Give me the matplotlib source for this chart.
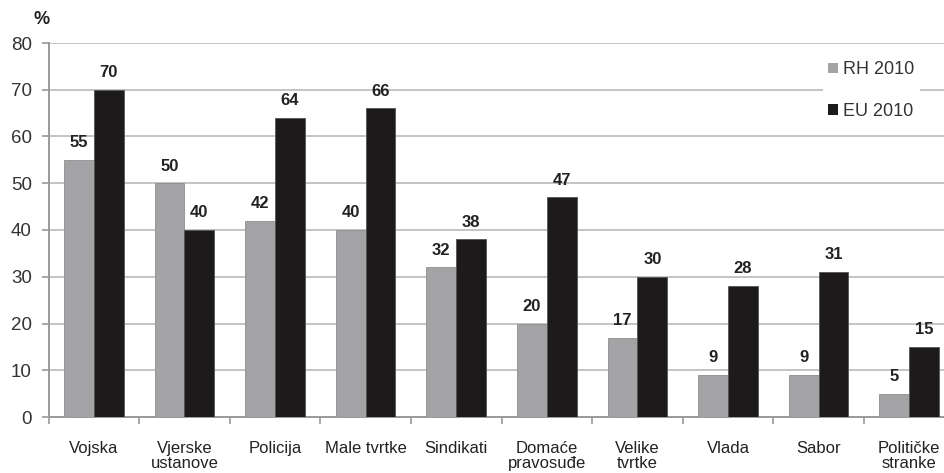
import numpy as np
import matplotlib.pyplot as plt
from matplotlib.patches import Patch

categories = ['Vojska', 'Vjerske\nustanove', 'Policija', 'Male tvrtke', 'Sindikati',
              'Domaće\npravosuđe', 'Velike\ntvrtke', 'Vlada', 'Sabor', 'Političke\nstranke']
rh_2010 = [55, 50, 42, 40, 32, 20, 17, 9, 9, 5]
eu_2010 = [70, 40, 64, 66, 38, 47, 30, 28, 31, 15]
series_names = ['RH 2010', 'EU 2010']
yticks = [0, 10, 20, 30, 40, 50, 60, 70, 80]

plt.rcParams['font.family'] = ['Liberation Sans', 'DejaVu Sans']

gray = '#a3a3a5'
black = '#1c1a1b'
grid = '#c4c4c4'
txt = '#222222'

fig = plt.figure(figsize=(9.45, 4.73), dpi=100)
ax = fig.add_axes([48.5 / 945, 1 - 417 / 473, 906 / 945, 374 / 473])

x = np.arange(len(categories))
w = 0.33
ax.bar(x - w / 2, rh_2010, w, color=gray, edgecolor='#8f8f8f', linewidth=0.6, zorder=3)
ax.bar(x + w / 2, eu_2010, w, color=black, edgecolor='#555555', linewidth=0.6, zorder=3)

# value labels above each bar
for xi, v in zip(x, rh_2010):
    ax.annotate(str(v), (xi - w / 2, v), xytext=(0, 7), textcoords='offset points',
                ha='center', va='bottom', fontsize=12, fontweight='bold', color=txt)
for xi, v in zip(x, eu_2010):
    ax.annotate(str(v), (xi + w / 2, v), xytext=(0, 7), textcoords='offset points',
                ha='center', va='bottom', fontsize=12, fontweight='bold', color=txt)

ax.set_xlim(-0.5, len(categories) - 0.5)
ax.set_ylim(0, 80)
ax.set_yticks(yticks)
ax.set_yticklabels([str(t) for t in yticks], fontsize=13.5, color='#333333')
ax.yaxis.grid(True, color=grid, linewidth=1.4, zorder=0)
ax.set_axisbelow(True)

ax.set_xticks(x)
ax.set_xticklabels(categories, fontsize=12, color=txt, linespacing=1.0)
ax.set_xticks(np.arange(-0.5, len(categories), 1), minor=True)
ax.tick_params(axis='x', which='major', length=0, pad=17)
ax.tick_params(axis='x', which='minor', length=5, color='#999999', width=1.2)
ax.tick_params(axis='y', length=5, color='#999999', width=1.2, pad=7)

for s in ['top', 'right']:
    ax.spines[s].set_visible(False)
ax.spines['left'].set_color('#999999')
ax.spines['left'].set_linewidth(1.4)
ax.spines['bottom'].set_color('#999999')
ax.spines['bottom'].set_linewidth(1.4)

fig.text(34 / 945, 1 - 19 / 473, '%', fontsize=13, fontweight='bold', color=txt,
         ha='left', va='center')

handles = [Patch(facecolor=gray, edgecolor='none'), Patch(facecolor=black, edgecolor='none')]
leg = ax.legend(handles, series_names, loc='upper left', bbox_to_anchor=(814 / 945, 1 - 47 / 473),
                bbox_transform=fig.transFigure, frameon=True, fancybox=False, edgecolor='none',
                facecolor='white', framealpha=1, fontsize=13, handlelength=0.55, handleheight=0.55,
                handletextpad=0.25, labelspacing=1.35, borderpad=0.3)
for t in leg.get_texts():
    t.set_color('#333333')
leg.set_zorder(5)

fig.savefig('out.png', dpi=100)
